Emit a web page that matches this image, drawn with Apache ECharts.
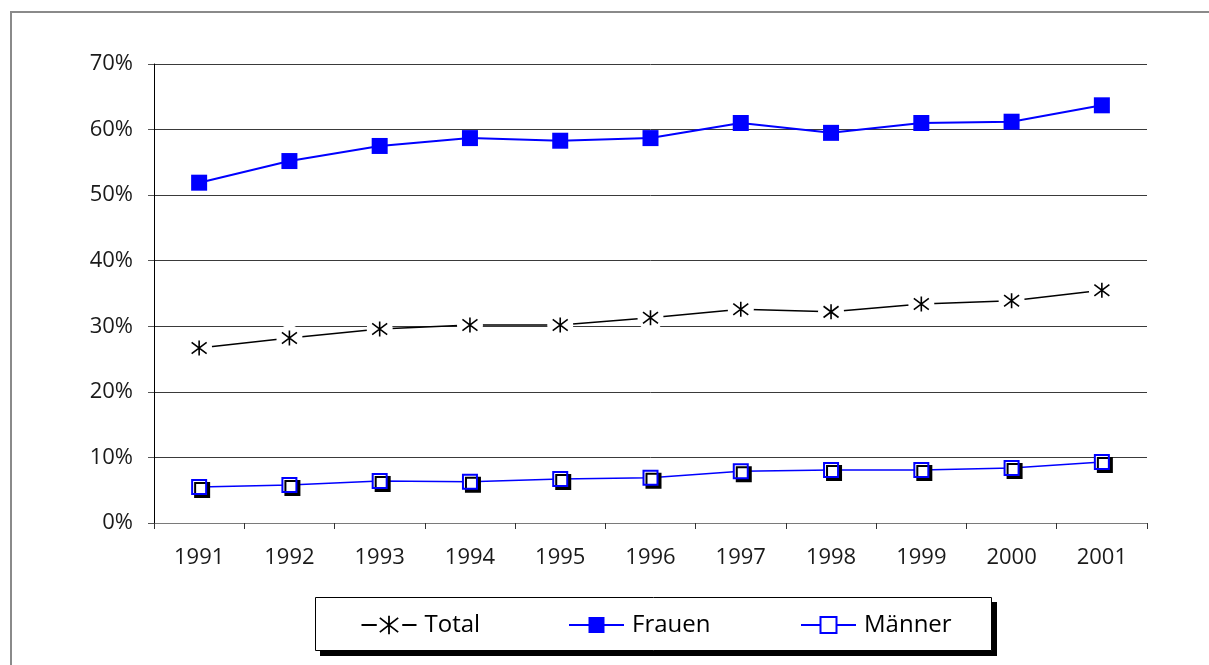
<!DOCTYPE html>
<html>
<head>
<meta charset="utf-8">
<script src="https://cdn.jsdelivr.net/npm/echarts@6/dist/echarts.min.js"></script>
<style>
  html, body { margin: 0; padding: 0; background: #fff; }
  #chart { width: 1209px; height: 665px; }
</style>
</head>
<body>
<div id="chart"></div>
<script>
// Years on the category axis
const years = ['1991', '1992', '1993', '1994', '1995', '1996', '1997', '1998', '1999', '2000', '2001'];
// Shares in percent
const total  = [26.7, 28.2, 29.6, 30.2, 30.2, 31.3, 32.6, 32.2, 33.4, 33.9, 35.5];
const frauen = [51.9, 55.2, 57.5, 58.7, 58.3, 58.7, 61.0, 59.5, 61.0, 61.2, 63.7];
const maenner = [5.5, 5.8, 6.4, 6.3, 6.7, 6.9, 7.9, 8.1, 8.1, 8.4, 9.3];
// Y-axis range and step (percent)
const yTicks = { min: 0, max: 70, step: 10 };

const FONT = '"Open Sans", "Liberation Sans", sans-serif';
const BLUE = '#0000FF';
const ASTERISK = 'path://M8,0 L8,16 M1,2 L15,14 M1,14 L15,2';
// legend key for Total: dash, asterisk, dash
const TOTAL_KEY = 'path://M0,9 L15,9 M27,0 L27,18 M18,2 L36,16 M18,16 L36,2 M40,9 L54,9';

const chart = echarts.init(document.getElementById('chart'), null, { renderer: 'canvas' });

const legendBase = {
  top: 613,
  itemWidth: 55,
  itemHeight: 20,
  itemGap: 0,
  padding: 0,
  selectedMode: false,
  z: 5,
  textStyle: { fontFamily: FONT, fontSize: 24, color: '#000', padding: [0, 0, 0, 3] }
};

// marker-only layer: a line series whose connecting line is hidden
function markerLayer(data, z, symbol, size, itemStyle) {
  return {
    name: 'Total', type: 'line', data: data, z: z, silent: true,
    symbol: symbol, symbolSize: size, showSymbol: true,
    lineStyle: { width: 0, opacity: 0 },
    itemStyle: itemStyle
  };
}

chart.setOption({
  animation: false,
  backgroundColor: '#fff',
  graphic: [
    {
      // outer frame
      type: 'rect', z: -10, silent: true,
      shape: { x: 11, y: 12, width: 1260, height: 720 },
      style: { fill: '#fff', stroke: '#8a8a8a', lineWidth: 2 }
    },
    {
      // legend box drop shadow
      type: 'rect', z: 1, silent: true,
      shape: { x: 320, y: 602, width: 677, height: 54 },
      style: { fill: '#000' }
    },
    {
      // legend box
      type: 'rect', z: 2, silent: true,
      shape: { x: 315.5, y: 597.5, width: 676, height: 53 },
      style: { fill: '#fff', stroke: '#000', lineWidth: 1 }
    }
  ],
  legend: [
    Object.assign({}, legendBase, {
      left: 359,
      data: [{ name: 'Total', icon: TOTAL_KEY }],
      itemStyle: { color: 'none', borderColor: '#000', borderWidth: 1.8 }
    }),
    Object.assign({}, legendBase, { left: 568, data: ['Frauen'] }),
    Object.assign({}, legendBase, { left: 800, data: ['Männer'] })
  ],
  grid: { left: 154, right: 62, top: 64, bottom: 142 },
  xAxis: {
    type: 'category',
    data: years,
    boundaryGap: true,
    axisLine: { lineStyle: { color: '#7a7a7a', width: 1 } },
    axisTick: { show: true, length: 6, inside: false, lineStyle: { color: '#333' } },
    axisLabel: { fontFamily: FONT, fontSize: 22, color: '#1a1a1a', margin: 24 }
  },
  yAxis: {
    type: 'value',
    min: yTicks.min,
    max: yTicks.max,
    interval: yTicks.step,
    axisLine: { show: true, lineStyle: { color: '#000', width: 1 } },
    axisTick: { show: true, length: 6, lineStyle: { color: '#555' } },
    axisLabel: { fontFamily: FONT, fontSize: 22, color: '#1a1a1a', margin: 21, formatter: '{value}%' },
    splitLine: { show: true, lineStyle: { color: '#3a3a3a', width: 1 } }
  },
  series: [
    {
      name: 'Frauen', type: 'line', data: frauen, z: 3,
      symbol: 'rect', symbolSize: 16,
      itemStyle: { color: BLUE, borderColor: BLUE, borderWidth: 0 },
      lineStyle: { color: BLUE, width: 2 }
    },
    {
      name: 'Männer', type: 'line', data: maenner, z: 3,
      symbol: 'rect', symbolSize: 14,
      itemStyle: {
        color: '#fff', borderColor: BLUE, borderWidth: 2,
        shadowColor: '#000', shadowOffsetX: 3, shadowOffsetY: 3, shadowBlur: 0
      },
      lineStyle: { color: BLUE, width: 1.5 }
    },
    {
      name: 'Total', type: 'line', data: total, z: 3,
      symbol: ASTERISK, symbolSize: 15,
      itemStyle: { color: 'none', borderColor: '#000', borderWidth: 1.6 },
      lineStyle: { color: '#000', width: 1.5 }
    },
    // white discs that break the line and grid around each marker
    markerLayer(total, 4, 'circle', 26, { color: '#fff', borderWidth: 0, opacity: 1 }),
    markerLayer(total, 5, ASTERISK, 15, { color: 'none', borderColor: '#000', borderWidth: 1.6, opacity: 1 })
  ]
});
</script>
</body>
</html>
